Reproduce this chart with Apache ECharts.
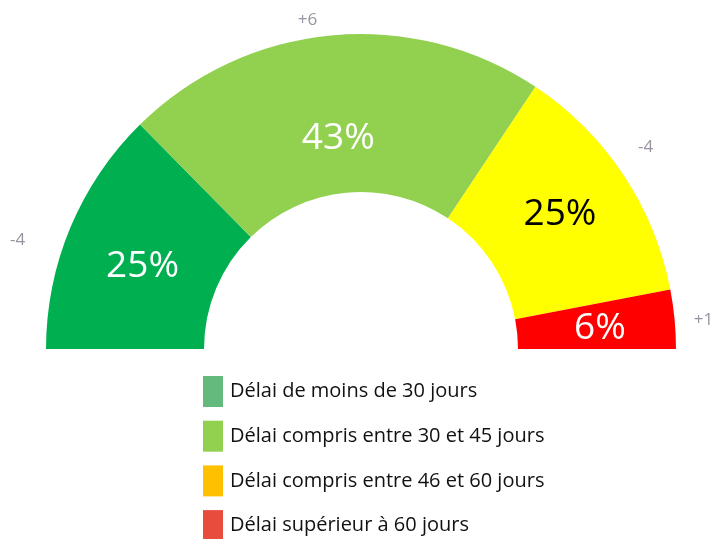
<!DOCTYPE html>
<html>
<head>
<meta charset="utf-8">
<script src="https://cdn.jsdelivr.net/npm/echarts@6/dist/echarts.min.js"></script>
<style>
html,body{margin:0;padding:0;background:#fff;}
#chart{width:713px;height:539px;}
</style>
</head>
<body>
<div id="chart"></div>
<script>
const categories = [
  'Délai de moins de 30 jours',
  'Délai compris entre 30 et 45 jours',
  'Délai compris entre 46 et 60 jours',
  'Délai supérieur à 60 jours'
];
const shares = [25, 43, 25, 6];
const changes = ['-4', '+6', '-4', '+1'];

const sliceColors = ['#00B050', '#92D050', '#FFFF00', '#FF0000'];
const legendColors = ['#63BA7C', '#92D050', '#FFC000', '#E84C3D'];
const labelColors = ['#ffffff', '#ffffff', '#000000', '#ffffff'];
// label nudges (layout only)
const shareLabelOffsets = [[2, 10], [0, 27], [0, -2], [1, 2]];
const changeLabelOffsets = [[-27, 24], [-21, 13], [-1, -12], [1, 4]];
const FONT = '"Open Sans", "DejaVu Sans", sans-serif';

const chart = echarts.init(document.getElementById('chart'), null, {renderer: 'canvas'});

const mainData = categories.map((name, i) => ({
  name: name,
  value: shares[i],
  itemStyle: {color: sliceColors[i]},
  label: {color: labelColors[i], offset: shareLabelOffsets[i]}
}));
const ringData = categories.map((name, i) => ({
  name: name,
  value: shares[i],
  change: changes[i],
  label: {offset: changeLabelOffsets[i]}
}));

chart.setOption({
  animation: false,
  legend: {
    orient: 'vertical',
    left: 203,
    top: 376,
    height: 175,
    padding: 0,
    itemWidth: 20,
    itemHeight: 31,
    itemGap: 13.7,
    icon: 'rect',
    selectedMode: false,
    textStyle: {fontFamily: FONT, fontSize: 20, color: '#111111', padding: [0, 0, 0, 2]},
    data: categories.map((name, i) => ({name: name, itemStyle: {color: legendColors[i]}}))
  },
  series: [
    {
      type: 'pie',
      center: [361, 349],
      radius: [157, 315],
      startAngle: 180,
      endAngle: 0,
      clockwise: true,
      avoidLabelOverlap: false,
      silent: true,
      itemStyle: {borderWidth: 0},
      label: {
        show: true,
        position: 'inside',
        formatter: p => p.value + '%',
        fontFamily: FONT,
        fontSize: 37,
        textBorderWidth: 0
      },
      labelLine: {show: false},
      data: mainData
    },
    {
      type: 'pie',
      center: [361, 349],
      radius: [315, 365],
      startAngle: 180,
      endAngle: 0,
      clockwise: true,
      avoidLabelOverlap: false,
      silent: true,
      legendHoverLink: false,
      itemStyle: {color: 'rgba(0,0,0,0)', borderWidth: 0},
      label: {
        show: true,
        position: 'inside',
        formatter: p => p.data.change,
        fontFamily: FONT,
        fontSize: 17,
        color: '#9A92A0',
        textBorderWidth: 0
      },
      labelLine: {show: false},
      data: ringData
    }
  ]
});
</script>
</body>
</html>
